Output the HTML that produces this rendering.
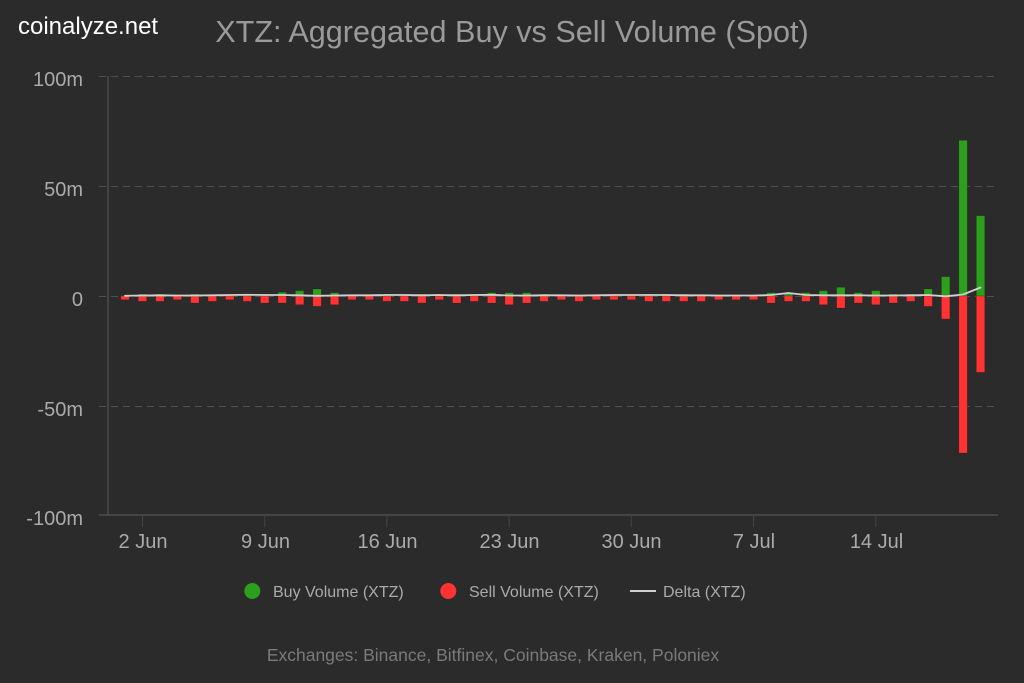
<!DOCTYPE html>
<html>
<head>
<meta charset="utf-8">
<style>
html,body{margin:0;padding:0;background:#2b2b2b;}
svg{display:block;}
text{font-family:"Liberation Sans",Arial,sans-serif;}
</style>
</head>
<body>
<svg width="1024" height="683" viewBox="0 0 1024 683" xmlns="http://www.w3.org/2000/svg">
<rect x="0" y="0" width="1024" height="683" fill="#2b2b2b"/>
<text x="18" y="34" font-size="24" fill="#ffffff">coinalyze.net</text>
<text x="512" y="42" font-size="30.6" fill="#9a9a9a" text-anchor="middle">XTZ: Aggregated Buy vs Sell Volume (Spot)</text>

<g stroke="#505050" stroke-width="1" stroke-dasharray="7,5" fill="none">
<line x1="99" y1="76.5" x2="998" y2="76.5"/>
<line x1="99" y1="186.5" x2="998" y2="186.5"/>
<line x1="99" y1="296.5" x2="998" y2="296.5"/>
<line x1="99" y1="406.5" x2="998" y2="406.5"/>
</g>
<line x1="99" y1="515" x2="998" y2="515" stroke="#555" stroke-width="1.2"/>
<line x1="108" y1="76" x2="108" y2="515" stroke="#555" stroke-width="1.2"/>
<g stroke="#444" stroke-width="1">
<line x1="142.5" y1="515" x2="142.5" y2="527"/>
<line x1="264.7" y1="515" x2="264.7" y2="527"/>
<line x1="386.9" y1="515" x2="386.9" y2="527"/>
<line x1="509.1" y1="515" x2="509.1" y2="527"/>
<line x1="631.3" y1="515" x2="631.3" y2="527"/>
<line x1="753.6" y1="515" x2="753.6" y2="527"/>
<line x1="875.8" y1="515" x2="875.8" y2="527"/>
</g>

<g font-size="20" fill="#aaaaaa" text-anchor="end">
<text x="83" y="86">100m</text>
<text x="83" y="196">50m</text>
<text x="83" y="306">0</text>
<text x="83" y="416">-50m</text>
<text x="83" y="525">-100m</text>
</g>
<g font-size="20" fill="#aaaaaa" text-anchor="middle">
<text x="143" y="548">2 Jun</text>
<text x="265.5" y="548">9 Jun</text>
<text x="387.5" y="548">16 Jun</text>
<text x="509.5" y="548">23 Jun</text>
<text x="631.5" y="548">30 Jun</text>
<text x="754" y="548">7 Jul</text>
<text x="876.5" y="548">14 Jul</text>
</g>

<g fill="#2ca01c" stroke="rgba(0,0,0,0.18)" stroke-width="0.8">
<rect x="120.8" y="295.5" width="8.4" height="0.5"/>
<rect x="138.26" y="294" width="8.4" height="2"/>
<rect x="155.72" y="294" width="8.4" height="2"/>
<rect x="173.18" y="295.3" width="8.4" height="0.7"/>
<rect x="190.64" y="294" width="8.4" height="2"/>
<rect x="208.1" y="295.3" width="8.4" height="0.7"/>
<rect x="225.56" y="294.7" width="8.4" height="1.3"/>
<rect x="243.02" y="294" width="8.4" height="2"/>
<rect x="260.48" y="294" width="8.4" height="2"/>
<rect x="277.94" y="292.3" width="8.4" height="3.7"/>
<rect x="295.4" y="290.7" width="8.4" height="5.3"/>
<rect x="312.86" y="289" width="8.4" height="7"/>
<rect x="330.32" y="292.7" width="8.4" height="3.3"/>
<rect x="347.78" y="295.5" width="8.4" height="0.5"/>
<rect x="365.24" y="295.5" width="8.4" height="0.5"/>
<rect x="382.7" y="294" width="8.4" height="2"/>
<rect x="400.16" y="295.3" width="8.4" height="0.7"/>
<rect x="417.62" y="294" width="8.4" height="2"/>
<rect x="435.08" y="294" width="8.4" height="2"/>
<rect x="452.54" y="294" width="8.4" height="2"/>
<rect x="470" y="294" width="8.4" height="2"/>
<rect x="487.46" y="292.7" width="8.4" height="3.3"/>
<rect x="504.92" y="292.7" width="8.4" height="3.3"/>
<rect x="522.38" y="292.7" width="8.4" height="3.3"/>
<rect x="539.84" y="294" width="8.4" height="2"/>
<rect x="557.3" y="295.3" width="8.4" height="0.7"/>
<rect x="592.22" y="295.3" width="8.4" height="0.7"/>
<rect x="609.68" y="295.5" width="8.4" height="0.5"/>
<rect x="627.14" y="295.5" width="8.4" height="0.5"/>
<rect x="644.6" y="294" width="8.4" height="2"/>
<rect x="662.06" y="294" width="8.4" height="2"/>
<rect x="679.52" y="294" width="8.4" height="2"/>
<rect x="696.98" y="295.3" width="8.4" height="0.7"/>
<rect x="714.44" y="295.3" width="8.4" height="0.7"/>
<rect x="731.9" y="295.3" width="8.4" height="0.7"/>
<rect x="766.82" y="292.7" width="8.4" height="3.3"/>
<rect x="784.28" y="292.7" width="8.4" height="3.3"/>
<rect x="801.74" y="292.7" width="8.4" height="3.3"/>
<rect x="819.2" y="290.7" width="8.4" height="5.3"/>
<rect x="836.66" y="287.3" width="8.4" height="8.7"/>
<rect x="854.12" y="292.7" width="8.4" height="3.3"/>
<rect x="871.58" y="290.7" width="8.4" height="5.3"/>
<rect x="889.04" y="294" width="8.4" height="2"/>
<rect x="906.5" y="294" width="8.4" height="2"/>
<rect x="923.96" y="289" width="8.4" height="7"/>
<rect x="941.42" y="276.7" width="8.4" height="19.3"/>
<rect x="958.88" y="140.3" width="8.4" height="155.7"/>
<rect x="976.34" y="215.7" width="8.4" height="80.3"/>
</g>

<g fill="#ff3333" stroke="rgba(0,0,0,0.18)" stroke-width="0.8">
<rect x="120.8" y="296" width="8.4" height="3.7"/>
<rect x="138.26" y="296" width="8.4" height="5.3"/>
<rect x="155.72" y="296" width="8.4" height="5.3"/>
<rect x="173.18" y="296" width="8.4" height="3.7"/>
<rect x="190.64" y="296" width="8.4" height="7"/>
<rect x="208.1" y="296" width="8.4" height="5.3"/>
<rect x="225.56" y="296" width="8.4" height="3.7"/>
<rect x="243.02" y="296" width="8.4" height="5.3"/>
<rect x="260.48" y="296" width="8.4" height="7"/>
<rect x="277.94" y="296" width="8.4" height="7"/>
<rect x="295.4" y="296" width="8.4" height="8.7"/>
<rect x="312.86" y="296" width="8.4" height="10.3"/>
<rect x="330.32" y="296" width="8.4" height="8.7"/>
<rect x="347.78" y="296" width="8.4" height="3.7"/>
<rect x="365.24" y="296" width="8.4" height="3.7"/>
<rect x="382.7" y="296" width="8.4" height="5.3"/>
<rect x="400.16" y="296" width="8.4" height="5.3"/>
<rect x="417.62" y="296" width="8.4" height="7"/>
<rect x="435.08" y="296" width="8.4" height="3.7"/>
<rect x="452.54" y="296" width="8.4" height="7"/>
<rect x="470" y="296" width="8.4" height="5.3"/>
<rect x="487.46" y="296" width="8.4" height="7"/>
<rect x="504.92" y="296" width="8.4" height="8.7"/>
<rect x="522.38" y="296" width="8.4" height="7"/>
<rect x="539.84" y="296" width="8.4" height="5.3"/>
<rect x="557.3" y="296" width="8.4" height="3.7"/>
<rect x="574.76" y="296" width="8.4" height="5.3"/>
<rect x="592.22" y="296" width="8.4" height="3.7"/>
<rect x="609.68" y="296" width="8.4" height="3.7"/>
<rect x="627.14" y="296" width="8.4" height="3.7"/>
<rect x="644.6" y="296" width="8.4" height="5.3"/>
<rect x="662.06" y="296" width="8.4" height="5.3"/>
<rect x="679.52" y="296" width="8.4" height="5.3"/>
<rect x="696.98" y="296" width="8.4" height="5.3"/>
<rect x="714.44" y="296" width="8.4" height="3.7"/>
<rect x="731.9" y="296" width="8.4" height="3.7"/>
<rect x="749.36" y="296" width="8.4" height="3.7"/>
<rect x="766.82" y="296" width="8.4" height="7"/>
<rect x="784.28" y="296" width="8.4" height="5.3"/>
<rect x="801.74" y="296" width="8.4" height="5.3"/>
<rect x="819.2" y="296" width="8.4" height="8.7"/>
<rect x="836.66" y="296" width="8.4" height="12"/>
<rect x="854.12" y="296" width="8.4" height="7"/>
<rect x="871.58" y="296" width="8.4" height="8.7"/>
<rect x="889.04" y="296" width="8.4" height="7"/>
<rect x="906.5" y="296" width="8.4" height="5.3"/>
<rect x="923.96" y="296" width="8.4" height="10.3"/>
<rect x="941.42" y="296" width="8.4" height="23"/>
<rect x="958.88" y="296" width="8.4" height="157"/>
<rect x="976.34" y="296" width="8.4" height="76.3"/>
</g>

<polyline fill="none" stroke="#cfcfcf" stroke-width="1.8" stroke-linejoin="round" stroke-linecap="round"
points="125,295.8 142.46,295.5 159.92,295.3 177.38,295.5 194.84,295.5 212.3,295.3 229.76,295 247.22,294.8 264.68,295 282.14,295 299.6,295.3 317.06,295.8 334.52,295.5 351.98,295.3 369.44,295.3 386.9,295 404.36,295 421.82,295.3 439.28,295 456.74,295.3 474.2,295 491.66,294.8 509.12,295.5 526.58,295.5 544.04,295.3 561.5,295.3 578.96,295.5 596.42,295.3 613.88,295 631.34,295 648.8,295 666.26,295 683.72,295.3 701.18,295.3 718.64,295.5 736.1,295.5 753.56,295.5 771.02,295 788.48,293 805.94,295 823.4,295.3 840.86,295.3 858.32,295.3 875.78,295.5 893.24,295.5 910.7,295.3 928.16,295 945.62,296.3 963.08,294.5 980.54,287.5"/>

<circle cx="252.3" cy="591" r="8" fill="#2ca01c"/>
<text x="273" y="597" font-size="16" fill="#aaaaaa">Buy Volume (XTZ)</text>
<circle cx="448.3" cy="591" r="8" fill="#ff3333"/>
<text x="469" y="597" font-size="16" fill="#aaaaaa">Sell Volume (XTZ)</text>
<line x1="630" y1="591" x2="656" y2="591" stroke="#cfcfcf" stroke-width="2"/>
<text x="663" y="597" font-size="16" fill="#aaaaaa">Delta (XTZ)</text>

<text x="493" y="661" font-size="17.5" fill="#7a7a7a" text-anchor="middle">Exchanges: Binance, Bitfinex, Coinbase, Kraken, Poloniex</text>
</svg>
</body>
</html>
